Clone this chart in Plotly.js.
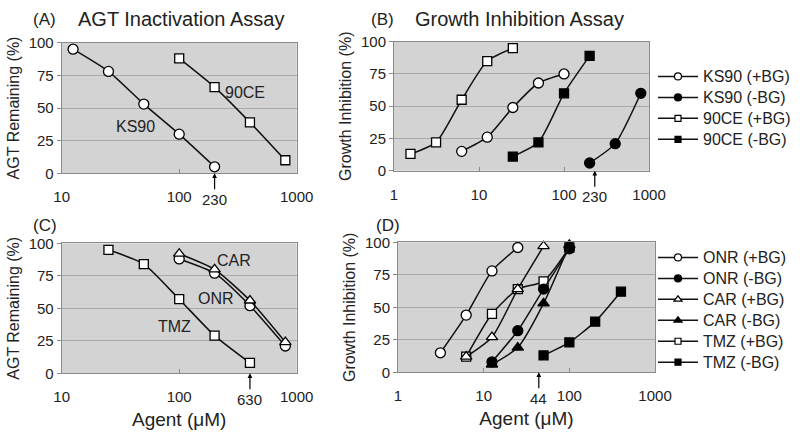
<!DOCTYPE html>
<html>
<head>
<meta charset="utf-8">
<script src="https://cdn.plot.ly/plotly-3.0.1.min.js"></script>
<style>html,body{margin:0;padding:0;background:#fff;}#chart{width:800px;height:440px;}</style>
</head>
<body>
<div id="chart"></div>
<script>
// ---- Panel A: AGT inactivation (KS90, 90CE) ----
const A_ks90_x = [12.5, 25, 50, 100, 200];
const A_ks90_y = [95, 78, 53, 30, 5];
const A_90ce_x = [100, 200, 400, 800];
const A_90ce_y = [88, 66, 39, 10];

// ---- Panel B: growth inhibition (KS90, 90CE +/- BG) ----
const B_ks90_pos_x = [6.25, 12.5, 25, 50, 100];
const B_ks90_pos_y = [15, 26, 49, 68, 75];
const B_ks90_neg_x = [200, 400, 800];
const B_ks90_neg_y = [6, 21, 60];
const B_90ce_pos_x = [1.5625, 3.125, 6.25, 12.5, 25];
const B_90ce_pos_y = [13, 22, 55, 85, 95];
const B_90ce_neg_x = [25, 50, 100, 200];
const B_90ce_neg_y = [11, 22, 60, 89];

// ---- Panel C: AGT inactivation (TMZ, ONR, CAR) ----
const C_tmz_x = [25, 50, 100, 200, 400];
const C_tmz_y = [95, 84, 57, 29, 8];
const C_onr_x = [100, 200, 400, 800];
const C_onr_y = [88, 77, 52, 21];
const C_car_x = [100, 200, 400, 800];
const C_car_y = [92, 80, 56, 24];

// ---- Panel D: growth inhibition (ONR, CAR, TMZ +/- BG) ----
const D_onr_pos_x = [3.125, 6.25, 12.5, 25];
const D_onr_pos_y = [15, 44, 78, 96];
const D_onr_neg_x = [12.5, 25, 50, 100];
const D_onr_neg_y = [8, 32, 64, 95];
const D_car_pos_x = [6.25, 12.5, 25, 50];
const D_car_pos_y = [12, 27, 64, 97];
const D_car_neg_x = [12.5, 25, 50, 100];
const D_car_neg_y = [6, 19, 53, 98];
const D_tmz_pos_x = [6.25, 12.5, 25, 50, 100];
const D_tmz_pos_y = [12, 45, 64, 70, 96];
const D_tmz_neg_x = [50, 100, 200, 400];
const D_tmz_neg_y = [13, 23, 39, 62];

// legend entries
const legendB = ['KS90 (+BG)', 'KS90 (-BG)', '90CE (+BG)', '90CE (-BG)'];
const legendD = ['ONR (+BG)', 'ONR (-BG)', 'CAR (+BG)', 'CAR (-BG)', 'TMZ (+BG)', 'TMZ (-BG)'];

// tick labels / arrow markers
const yTicks = [0, 25, 50, 75, 100];
const xTicksAC = [10, 100, 1000];
const xTicksBD = [1, 10, 100, 1000];
const arrowA = {at: 200, label: '230'};
const arrowB = {at: 230, label: '230'};
const arrowC = {at: 400, label: '630'};
const arrowD = {at: 44, label: '44'};

const FONT = 'Liberation Sans, Arial, sans-serif';
const INK = '#222';

const SYM = {
  'KS90 (+BG)': ['circle', false], 'KS90 (-BG)': ['circle', true],
  '90CE (+BG)': ['square', false], '90CE (-BG)': ['square', true],
  'ONR (+BG)': ['circle', false], 'ONR (-BG)': ['circle', true],
  'CAR (+BG)': ['triangle-up', false], 'CAR (-BG)': ['triangle-up', true],
  'TMZ (+BG)': ['square', false], 'TMZ (-BG)': ['square', true]
};

function tr(x, y, sym, filled, xa, ya, name) {
  const size = sym === 'square' ? 9 : 10;
  return {
    type: 'scatter', mode: 'lines+markers', x: x, y: y, name: name,
    xaxis: xa, yaxis: ya, showlegend: false, cliponaxis: false,
    line: {color: '#111', width: 1.5, shape: 'spline', smoothing: 0.6},
    marker: {symbol: sym, size: size, color: filled ? '#000' : '#fff',
             line: {color: '#000', width: 1.3}}
  };
}
// legend key entries (small markers as in the original key)
function key(name, xa, ya, legend) {
  const s = SYM[name];
  return {
    type: 'scatter', mode: 'lines+markers', x: [null], y: [null],
    name: '<span style="font-size:16px">' + name + '</span>',
    xaxis: xa, yaxis: ya, legend: legend, showlegend: true, hoverinfo: 'skip',
    line: {color: '#111', width: 1.5},
    marker: {symbol: s[0], size: s[0] === 'square' ? 6 : 7, color: s[1] ? '#000' : '#fff',
             line: {color: '#000', width: 1.2}}
  };
}

const data = [
  tr(A_ks90_x, A_ks90_y, 'circle', false, 'x', 'y', 'KS90'),
  tr(A_90ce_x, A_90ce_y, 'square', false, 'x', 'y', '90CE'),

  tr(B_ks90_pos_x, B_ks90_pos_y, 'circle', false, 'x2', 'y2', 'KS90 (+BG)'),
  tr(B_ks90_neg_x, B_ks90_neg_y, 'circle', true, 'x2', 'y2', 'KS90 (-BG)'),
  tr(B_90ce_pos_x, B_90ce_pos_y, 'square', false, 'x2', 'y2', '90CE (+BG)'),
  tr(B_90ce_neg_x, B_90ce_neg_y, 'square', true, 'x2', 'y2', '90CE (-BG)'),

  tr(C_tmz_x, C_tmz_y, 'square', false, 'x3', 'y3', 'TMZ'),
  tr(C_onr_x, C_onr_y, 'circle', false, 'x3', 'y3', 'ONR'),
  tr(C_car_x, C_car_y, 'triangle-up', false, 'x3', 'y3', 'CAR'),

  tr(D_tmz_pos_x, D_tmz_pos_y, 'square', false, 'x4', 'y4', 'TMZ (+BG)'),
  tr(D_onr_pos_x, D_onr_pos_y, 'circle', false, 'x4', 'y4', 'ONR (+BG)'),
  tr(D_car_pos_x, D_car_pos_y, 'triangle-up', false, 'x4', 'y4', 'CAR (+BG)'),
  tr(D_onr_neg_x, D_onr_neg_y, 'circle', true, 'x4', 'y4', 'ONR (-BG)'),
  tr(D_car_neg_x, D_car_neg_y, 'triangle-up', true, 'x4', 'y4', 'CAR (-BG)'),
  tr(D_tmz_neg_x, D_tmz_neg_y, 'square', true, 'x4', 'y4', 'TMZ (-BG)')
].concat(
  legendB.map(n => key(n, 'x2', 'y2', 'legend')),
  legendD.map(n => key(n, 'x4', 'y4', 'legend2'))
);

function xax(domain, range, ticks, title) {
  const a = {
    type: 'log', domain: domain, range: range, tickvals: ticks,
    ticktext: ticks.map(String), showgrid: false, zeroline: false,
    showline: true, mirror: true, linecolor: '#8a8a8a', linewidth: 1,
    ticks: 'inside', ticklen: 4, tickcolor: '#8a8a8a', ticklabelstandoff: 10,
    tickfont: {family: FONT, size: 15, color: INK}, automargin: false, fixedrange: true
  };
  if (title) a.title = {text: title, font: {family: FONT, size: 19, color: INK}, standoff: 8};
  return a;
}
function yax(domain, title, anchor) {
  return {
    domain: domain, range: [0, 100], tickvals: yTicks, anchor: anchor,
    showgrid: true, gridcolor: '#a9a9a9', gridwidth: 1, zeroline: false,
    showline: true, mirror: true, linecolor: '#8a8a8a', linewidth: 1,
    ticks: 'outside', ticklen: 4, tickcolor: '#8a8a8a',
    tickfont: {family: FONT, size: 15, color: INK}, automargin: false, fixedrange: true,
    title: {text: title, font: {family: FONT, size: 16, color: INK}, standoff: 5}
  };
}

const ax = (xref, a) => ({
  x: Math.log10(a.at), y: 0, xref: xref, yref: xref.replace('x', 'y'),
  text: a.label, showarrow: true, arrowhead: 2, arrowsize: 0.8, arrowwidth: 1.2,
  arrowcolor: '#000', ax: 0, ay: 26, font: {family: FONT, size: 15, color: INK}
});
const lab = (xref, xv, yv, text) => ({
  x: Math.log10(xv), y: yv, xref: xref, yref: xref.replace('x', 'y'), text: text,
  showarrow: false, font: {family: FONT, size: 16, color: INK}
});
const ptxt = (px, py, text, size, anchor) => ({
  x: px / 800, y: 1 - py / 440, xref: 'paper', yref: 'paper', text: text,
  showarrow: false, xanchor: anchor || 'left', yanchor: 'middle',
  font: {family: FONT, size: size, color: INK}
});
const legendStyle = (topPx) => ({
  x: 653 / 800, y: 1 - topPx / 440, xanchor: 'left', yanchor: 'top',
  bgcolor: 'rgba(0,0,0,0)', font: {family: FONT, size: 13.8, color: INK},
  traceorder: 'normal', itemwidth: 40, tracegroupgap: 0
});

const layout = {
  width: 800, height: 440, autosize: false,
  margin: {l: 0, r: 0, t: 0, b: 0},
  paper_bgcolor: '#fff', plot_bgcolor: '#d3d3d3',
  font: {family: FONT, color: INK},
  xaxis: xax([0.0771, 0.3709], [1, 3], xTicksAC),
  yaxis: yax([0.6061, 0.9030], 'AGT Remaining (%)', 'x'),
  xaxis2: Object.assign(xax([0.4925, 0.8113], [0, 3], xTicksBD), {anchor: 'y2'}),
  yaxis2: yax([0.6120, 0.9052], 'Growth Inhibition (%)', 'x2'),
  xaxis3: Object.assign(xax([0.0771, 0.3709], [1, 3], xTicksAC, 'Agent (μM)'), {anchor: 'y3'}),
  yaxis3: yax([0.1516, 0.4470], 'AGT Remaining (%)', 'x3'),
  xaxis4: Object.assign(xax([0.4975, 0.8188], [0, 3], xTicksBD, 'Agent (μM)'), {anchor: 'y4'}),
  yaxis4: yax([0.1539, 0.4493], 'Growth Inhibition (%)', 'x4'),
  legend: legendStyle(61),
  legend2: legendStyle(242),
  annotations: [
    ptxt(31, 19, '(A)', 17), ptxt(76, 19, 'AGT Inactivation Assay', 20),
    ptxt(369, 19, '(B)', 17), ptxt(413, 19, 'Growth Inhibition Assay', 20),
    ptxt(31, 225, '(C)', 17), ptxt(374, 225, '(D)', 17),
    lab('x', Math.pow(10, 2.56), 61.5, '90CE'),
    lab('x', Math.pow(10, 1.632), 36.2, 'KS90'),
    lab('x3', Math.pow(10, 2.466), 86.6, 'CAR'),
    lab('x3', Math.pow(10, 2.309), 57.2, 'ONR'),
    lab('x3', Math.pow(10, 1.964), 35.8, 'TMZ'),
    ax('x', arrowA), ax('x2', arrowB), ax('x3', arrowC), ax('x4', arrowD)
  ]
};

Plotly.newPlot('chart', data, layout, {staticPlot: true, displayModeBar: false});
</script>
</body>
</html>
